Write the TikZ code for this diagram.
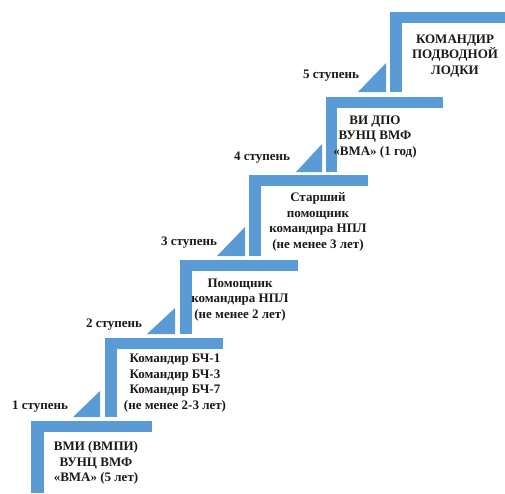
\documentclass[tikz,border=0pt]{standalone}
\usepackage{fontspec}
\setmainfont{Liberation Serif}
\definecolor{stepblue}{RGB}{91,155,213}
\tikzset{
  bar/.style={fill=stepblue, draw=none},
  txt/.style={font=\bfseries\fontsize{13}{15.8}\selectfont, align=center, inner sep=0pt, text=black!90},
  lbl/.style={font=\bfseries\fontsize{13}{14}\selectfont, inner sep=0pt, text=black!90}
}
\newcommand{\stepL}[5]{% left, top, right, bottom, vwidth
  \fill[bar] (#1,#2) rectangle (#3,#2+11);
  \fill[bar] (#1,#2) rectangle (#1+#5,#4);
}
\begin{document}
\begin{tikzpicture}[x=1pt,y=-1pt]
\useasboundingbox (0,0) rectangle (505,493);
% L-shaped steps
\stepL{31}{421}{152}{493}{13}
\stepL{105}{338}{223}{417}{12}
\stepL{180}{260}{298}{334}{12}
\stepL{249}{175}{368}{256}{12}
\stepL{326}{97}{443}{172}{11}
\stepL{390}{12}{505}{92}{12}
% triangles
\fill[bar] (73,417) -- (100,417) -- (100,391) -- cycle;
\fill[bar] (147,334) -- (175,334) -- (175,308) -- cycle;
\fill[bar] (217,256) -- (245,256) -- (245,227) -- cycle;
\fill[bar] (296,172) -- (322,172) -- (322,144) -- cycle;
\fill[bar] (358,92) -- (386,92) -- (386,63) -- cycle;
% step labels
\node[lbl] (s1) at (40,407) {1 ступень};
\node[lbl] (s2) at (114,325) {2 ступень};
\node[lbl] (s3) at (189,243) {3 ступень};
\node[lbl] (s4) at (262,158) {4 ступень};
\node[lbl] (s5) at (331,76) {5 ступень};
% texts
\node[txt] (t1) at (96,463) {ВМИ (ВМПИ)\\ВУНЦ ВМФ\\«ВМА» (5 лет)};
\node[txt] (t2) at (175,383) {Командир БЧ-1\\Командир БЧ-3\\Командир БЧ-7\\(не менее 2-3 лет)};
\node[txt] (t3) at (240,300) {Помощник\\командира НПЛ\\(не менее 2 лет)};
\node[txt] (t4) at (318,222) {Старший\\помощник\\командира НПЛ\\(не менее 3 лет)};
\node[txt] (t5) at (375,137) {ВИ ДПО\\ВУНЦ ВМФ\\«ВМА» (1 год)};
\node[txt] (t6) at (455,56) {КОМАНДИР\\ПОДВОДНОЙ\\ЛОДКИ};
\end{tikzpicture}
\end{document}
